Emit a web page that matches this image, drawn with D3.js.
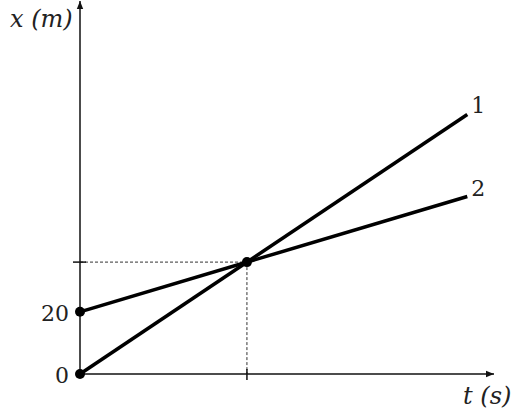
<!DOCTYPE html>
<html>
<head>
<meta charset="utf-8">
<script src="https://cdn.jsdelivr.net/npm/d3@7"></script>
<style>
  body { margin: 0; background: #fff; }
  svg text { font-family: "DejaVu Serif", "Liberation Serif", serif; fill: #222; }
</style>
</head>
<body>
<div id="chart"></div>
<script>
// values (t in arbitrary units, x in m)
var line1 = [{t: 0, x: 0}, {t: 11.6, x: 83.5}];
var line2 = [{t: 0, x: 20}, {t: 11.6, x: 57.1}];
var meet = {t: 5, x: 36};
var yTicks = [0, 20];
var lineNames = ["1", "2"];

var width = 530, height = 415;
var origin = {x: 80, y: 374};

var svg = d3.select("#chart").append("svg")
  .attr("width", width)
  .attr("height", height);

var xScale = d3.scaleLinear().domain([0, 12.4]).range([origin.x, 494]);
var yScale = d3.scaleLinear().domain([0, 120]).range([origin.y, 1]);

var defs = svg.append("defs");
defs.append("marker")
  .attr("id", "arrow")
  .attr("viewBox", "0 0 10 10")
  .attr("refX", 10).attr("refY", 5)
  .attr("markerWidth", 8).attr("markerHeight", 8)
  .attr("markerUnits", "userSpaceOnUse")
  .attr("orient", "auto")
  .append("path")
  .attr("d", "M0,1 L10,5 L0,9 Z")
  .attr("fill", "#111");

// dashed guides
svg.append("line")
  .attr("x1", xScale(0)).attr("x2", xScale(meet.t))
  .attr("y1", yScale(meet.x)).attr("y2", yScale(meet.x))
  .attr("stroke", "#333").attr("stroke-width", 1)
  .attr("stroke-dasharray", "3,2");
svg.append("line")
  .attr("x1", xScale(meet.t)).attr("x2", xScale(meet.t))
  .attr("y1", yScale(meet.x)).attr("y2", yScale(0))
  .attr("stroke", "#333").attr("stroke-width", 1)
  .attr("stroke-dasharray", "3,2");

// axes with arrows
svg.append("line")
  .attr("x1", xScale(0)).attr("y1", yScale(0))
  .attr("x2", xScale.range()[1]).attr("y2", yScale(0))
  .attr("stroke", "#111").attr("stroke-width", 1.5)
  .attr("marker-end", "url(#arrow)");
svg.append("line")
  .attr("x1", xScale(0)).attr("y1", yScale(0))
  .attr("x2", xScale(0)).attr("y2", yScale.range()[1])
  .attr("stroke", "#111").attr("stroke-width", 1.5)
  .attr("marker-end", "url(#arrow)");

// y tick labels
var yAxis = svg.append("g")
  .attr("transform", "translate(" + origin.x + ",0)")
  .call(d3.axisLeft(yScale).tickValues(yTicks).tickSize(0).tickPadding(11));
yAxis.select(".domain").remove();
yAxis.selectAll("text")
  .style("font-size", "22px")
  .attr("dy", "0.38em");

// tick marks at the meeting point
svg.append("line")
  .attr("x1", xScale(0) - 7).attr("x2", xScale(0) + 6)
  .attr("y1", yScale(meet.x)).attr("y2", yScale(meet.x))
  .attr("stroke", "#111").attr("stroke-width", 1.5);
svg.append("line")
  .attr("x1", xScale(meet.t)).attr("x2", xScale(meet.t))
  .attr("y1", yScale(0) - 5).attr("y2", yScale(0) + 6)
  .attr("stroke", "#111").attr("stroke-width", 1.5);

// the two lines
var line = d3.line().x(d => xScale(d.t)).y(d => yScale(d.x));
[line1, line2].forEach(function(d, i) {
  svg.append("path")
    .datum(d)
    .attr("d", line)
    .attr("fill", "none")
    .attr("stroke", "#000")
    .attr("stroke-width", 3.5);
  var last = d[d.length - 1];
  svg.append("text")
    .attr("x", xScale(last.t) + 4)
    .attr("y", yScale(last.x) - 1)
    .style("font-size", "22px")
    .text(lineNames[i]);
});

// dots
var dots = [line1[0], line2[0], meet];
svg.selectAll("circle.dot")
  .data(dots)
  .enter().append("circle")
  .attr("class", "dot")
  .attr("cx", d => xScale(d.t))
  .attr("cy", d => yScale(d.x))
  .attr("r", 5)
  .attr("fill", "#000");

// axis titles
svg.append("text")
  .attr("x", 10).attr("y", 27)
  .style("font-size", "24px").style("font-style", "italic")
  .text("x (m)");
svg.append("text")
  .attr("x", 463).attr("y", 404)
  .style("font-size", "24px").style("font-style", "italic")
  .text("t (s)");
</script>
</body>
</html>
